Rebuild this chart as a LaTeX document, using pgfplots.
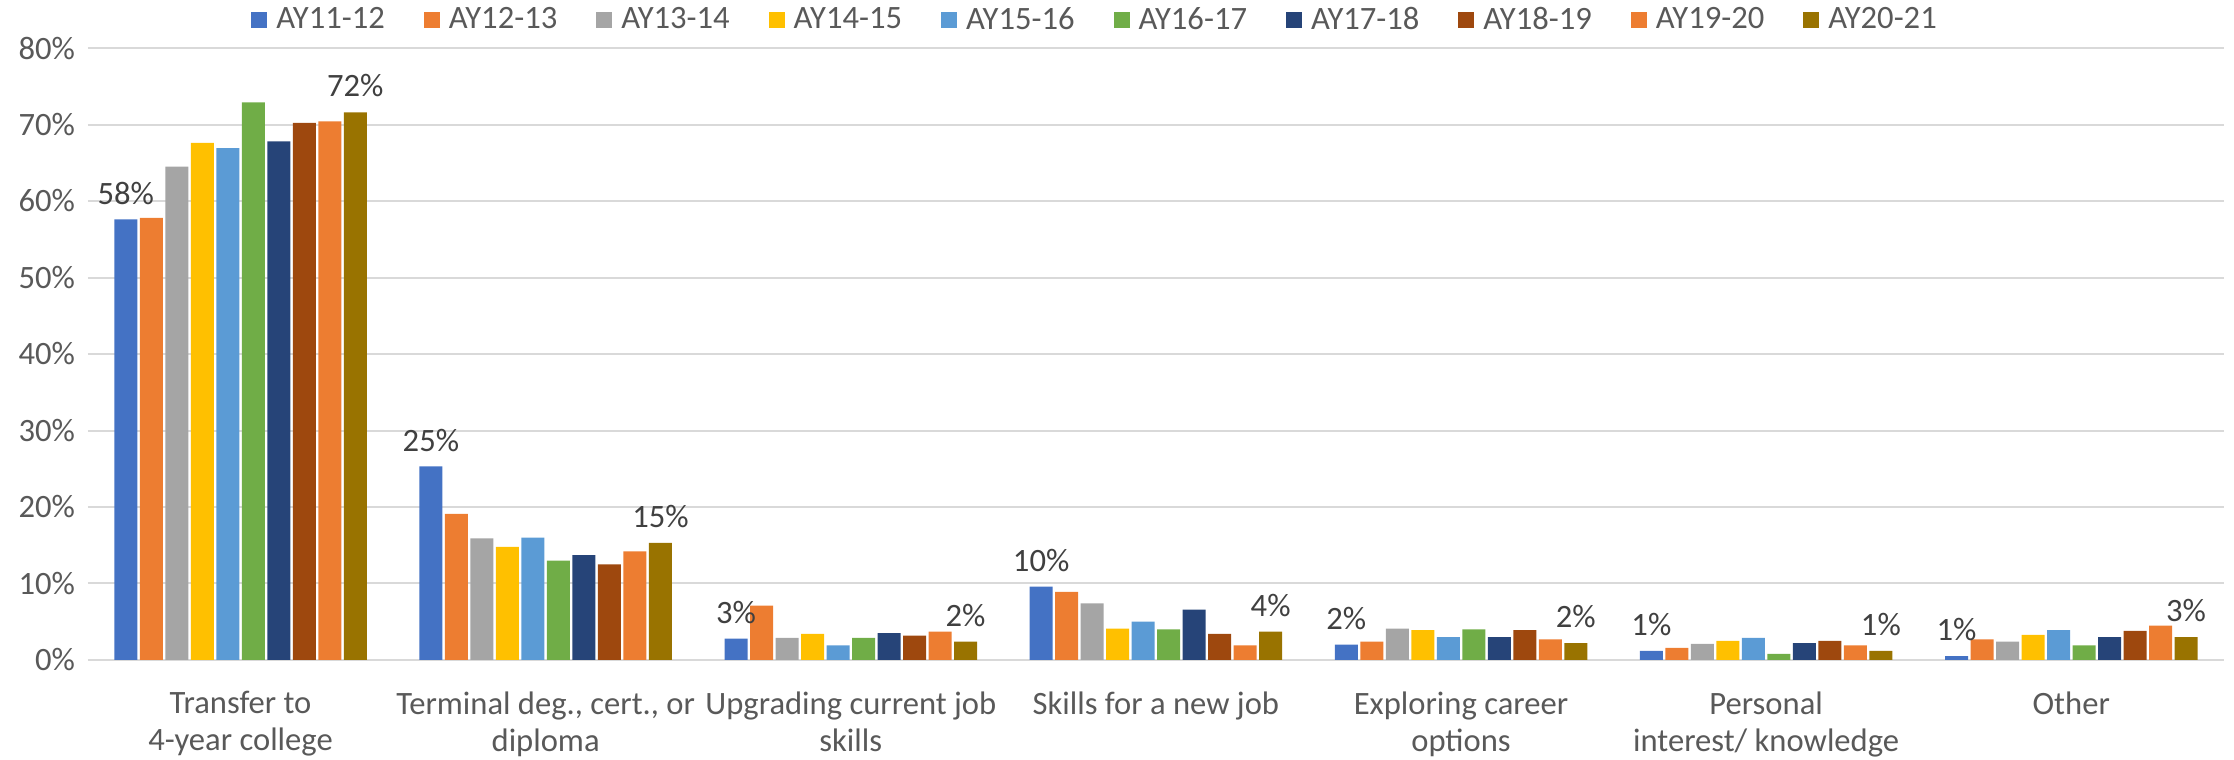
\documentclass[border=0pt]{standalone}
\usepackage{fontspec}
\setmainfont{Carlito}
\usepackage{pgfplots}
\pgfplotsset{compat=1.18}
\definecolor{c1}{HTML}{4472C4}
\definecolor{c2}{HTML}{ED7D31}
\definecolor{c3}{HTML}{A5A5A5}
\definecolor{c4}{HTML}{FFC000}
\definecolor{c5}{HTML}{5B9BD5}
\definecolor{c6}{HTML}{70AD47}
\definecolor{c7}{HTML}{264478}
\definecolor{c8}{HTML}{9E480E}
\definecolor{c9}{HTML}{ED7D31}
\definecolor{c10}{HTML}{997300}
\definecolor{textgray}{HTML}{595959}
\definecolor{labelgray}{HTML}{404040}
\definecolor{gridgray}{HTML}{D9D9D9}
\begin{document}
\begin{tikzpicture}
\useasboundingbox (-44pt,-50pt) rectangle (1073pt,330pt);
\begin{axis}[
  at={(0pt,0pt)}, anchor=south west,
  scale only axis, width=1068pt, height=306pt,
  ymin=0, ymax=80, xmin=-0.5, xmax=6.5,
  ybar=1.25pt, bar width=11.5pt,
  ytick={0,10,...,80},
  yticklabel={\pgfmathprintnumber{\tick}\%},
  /pgf/number format/assume math mode=true,
  xtick={0,...,6},
  xticklabels={{Transfer to\\4-year college},{Terminal deg., cert., or\\diploma},{Upgrading current job\\skills},{Skills for a new job},{Exploring career\\options},{Personal\\interest/ knowledge},{Other}},
  xticklabel style={align=center, font=\fontsize{16.3}{18.5}\selectfont, text=textgray, yshift=-8pt},
  yticklabel style={font=\fontsize{16.3}{18.5}\selectfont, text=textgray, xshift=-3pt},
  ymajorgrids, grid style={draw=gridgray, line width=1pt},
  axis line style={draw=none}, tick style={draw=none},
  nodes near coords style={font=\fontsize{16.3}{18.5}\selectfont, text=labelgray, yshift=4pt},
  legend columns=10,
  legend style={draw=none, fill=none, at={(0.472,1.046)}, anchor=center,
    font=\fontsize{16.3}{18.5}\selectfont, text=textgray,
    /tikz/every odd column/.append style={column sep=2.5pt},
    /tikz/every even column/.append style={column sep=17.5pt}},
  legend image code/.code={\fill[#1] (0pt,-4pt) rectangle (8pt,4pt);},
]
\addplot[fill=c1, draw=none, nodes near coords, point meta=explicit symbolic] coordinates {(0,57.6) [58\%] (1,25.3) [25\%] (2,2.8) [3\%] (3,9.6) [10\%] (4,2.0) [2\%] (5,1.2) [1\%] (6,0.5) [1\%]};
\addplot[fill=c2, draw=none] coordinates {(0,57.8) (1,19.1) (2,7.1) (3,8.9) (4,2.4) (5,1.6) (6,2.7)};
\addplot[fill=c3, draw=none] coordinates {(0,64.5) (1,15.9) (2,2.9) (3,7.4) (4,4.1) (5,2.1) (6,2.4)};
\addplot[fill=c4, draw=none] coordinates {(0,67.6) (1,14.8) (2,3.4) (3,4.1) (4,3.9) (5,2.5) (6,3.3)};
\addplot[fill=c5, draw=none] coordinates {(0,66.9) (1,16.0) (2,1.9) (3,5.0) (4,3.0) (5,2.9) (6,3.9)};
\addplot[fill=c6, draw=none] coordinates {(0,72.9) (1,13.0) (2,2.9) (3,4.0) (4,4.0) (5,0.8) (6,1.9)};
\addplot[fill=c7, draw=none] coordinates {(0,67.8) (1,13.7) (2,3.5) (3,6.6) (4,3.0) (5,2.2) (6,3.0)};
\addplot[fill=c8, draw=none] coordinates {(0,70.2) (1,12.5) (2,3.2) (3,3.4) (4,3.9) (5,2.5) (6,3.8)};
\addplot[fill=c9, draw=none] coordinates {(0,70.4) (1,14.2) (2,3.7) (3,1.9) (4,2.7) (5,1.9) (6,4.5)};
\addplot[fill=c10, draw=none, nodes near coords, point meta=explicit symbolic] coordinates {(0,71.6) [72\%] (1,15.3) [15\%] (2,2.4) [2\%] (3,3.7) [4\%] (4,2.2) [2\%] (5,1.2) [1\%] (6,3.0) [3\%]};
\legend{AY11-12,AY12-13,AY13-14,AY14-15,AY15-16,AY16-17,AY17-18,AY18-19,AY19-20,AY20-21}
\end{axis}
\end{tikzpicture}
\end{document}
